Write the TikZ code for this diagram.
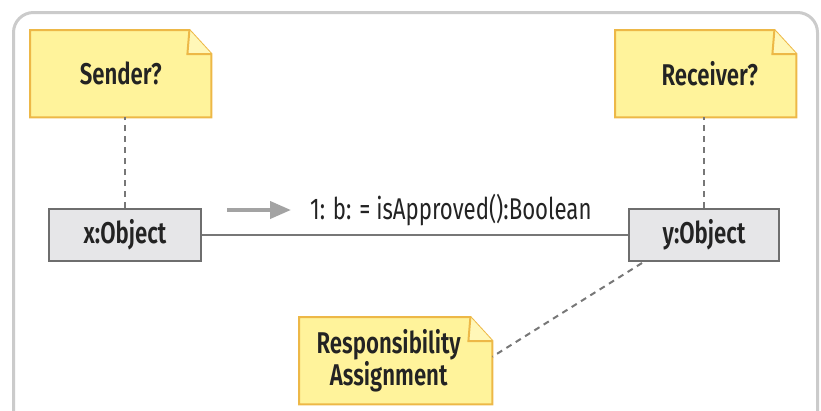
\documentclass[tikz,border=0pt]{standalone}
\usepackage{fontspec}
\setmainfont{Fira Sans}[FakeStretch=0.74, BoldFont={Fira Sans SemiBold}, BoldFeatures={FakeStretch=0.74}]
\usetikzlibrary{arrows.meta,backgrounds,calc}

\definecolor{notefill}{HTML}{FFF39B}
\definecolor{noteedge}{HTML}{EDB847}
\definecolor{foldfill}{HTML}{FFF7B8}
\definecolor{objfill}{HTML}{E6E6E8}
\definecolor{objedge}{HTML}{6E6E6E}
\definecolor{framegray}{HTML}{CBCBCB}
\definecolor{linkgray}{HTML}{777777}
\definecolor{arrowgray}{HTML}{A3A3A3}
\definecolor{textdark}{HTML}{232323}

% outline of a UML note with a folded top-right corner, drawn behind node #1
\newcommand{\notebody}[1]{%
  \begin{scope}[on background layer]
    \filldraw[fill=notefill, draw=noteedge, line width=2pt, line join=miter]
      (#1.north west) -- ($(#1.north east)+(-22,0)$) -- ($(#1.north east)+(0,24)$)
      -- (#1.south east) -- (#1.south west) -- cycle;
    \filldraw[fill=foldfill, draw=noteedge, line width=2pt, line join=miter]
      ($(#1.north east)+(-22,0)$) -- ($(#1.north east)+(-24,24)$) -- ($(#1.north east)+(0,24)$);
  \end{scope}}

\begin{document}
\begin{tikzpicture}[x=1pt, y=-1pt,
  notebox/.style={anchor=north west, inner sep=0pt, minimum width=#1, minimum height=87pt,
    align=center, text=textdark, font=\bfseries\fontsize{30}{30}\selectfont},
  objbox/.style={anchor=north west, inner sep=0pt, minimum width=#1, minimum height=52pt,
    fill=objfill, draw=objedge, line width=2pt, text=textdark,
    font=\bfseries\fontsize{30}{30}\selectfont},
  linkline/.style={draw=linkgray, line width=1.5pt},
  dashline/.style={draw=linkgray, line width=2pt, dash pattern=on 6pt off 5pt},
  msgarrow/.style={draw=arrowgray, line width=4pt, -{Triangle[length=21pt,width=17pt]}},
  msglabel/.style={anchor=base west, inner sep=0pt, text=textdark,
    font=\fontsize{30}{30}\selectfont}]

  \useasboundingbox (0,0) rectangle (821,410);
  \clip (0,0) rectangle (821,410);

  % rounded panel frame, its bottom edge runs off the page
  \draw[framegray, line width=3pt, rounded corners=20pt] (13.5,12.5) rectangle (817.5,432);

  % notes
  \node[notebox=181pt] (sender) at (30,30) {Sender?};
  \node[notebox=181pt] (receiver) at (615,30) {\hspace*{8pt}Receiver?};
  \node[notebox=193pt] (resp) at (299,317) {\hspace*{-14pt}Responsibility\\\hspace*{-14pt}Assignment};
  \notebody{sender}
  \notebody{receiver}
  \notebody{resp}

  % objects
  \node[objbox=152pt] (xobj) at (48,208) {x:Object};
  \node[objbox=150pt] (yobj) at (628,208) {y:Object};

  % links
  \draw[linkline] (xobj.east) -- (yobj.west);
  \draw[dashline] (xobj.north) -- (xobj.north |- sender.south);
  \draw[dashline] (yobj.north) -- (yobj.north |- receiver.south);
  \draw[dashline] ($(yobj.south west)+(14,1)$) -- ($(resp.east)+(0,-4)$);

  % message
  \node[msglabel] (msg) at (310,219) {1: b: = isApproved():Boolean};
  \coordinate (mstart) at (227,210);
  \coordinate (mend) at (291,210);
  \draw[msgarrow] (mstart) -- (mend);
\end{tikzpicture}
\end{document}
